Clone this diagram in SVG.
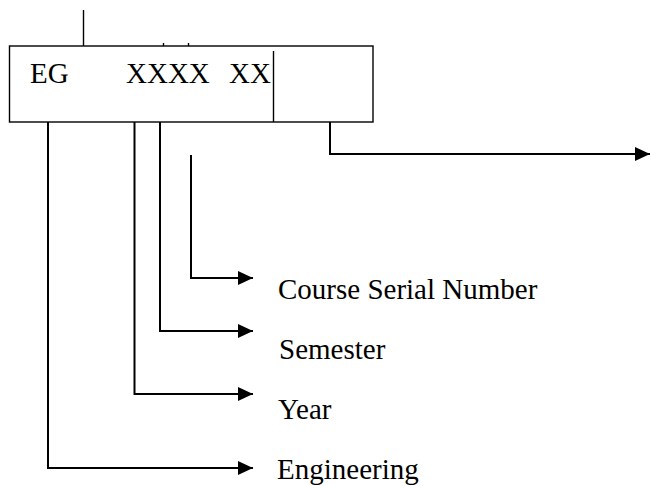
<svg xmlns="http://www.w3.org/2000/svg" width="651" height="486" viewBox="0 0 651 486">
<style>
text{font-family:"Liberation Serif","Times New Roman",serif;font-size:29px;fill:#000}
.box{fill:none;stroke:#000;stroke-width:1.4}
.ln{fill:none;stroke:#000;stroke-width:2}
.con{fill:none;stroke:#000;stroke-width:2;marker-end:url(#ah)}
</style>
<defs>
<marker id="ah" markerUnits="userSpaceOnUse" markerWidth="16" markerHeight="16" refX="15" refY="7" orient="auto">
<path d="M0,0 L15,7 L0,14 z" fill="#000"/>
</marker>
</defs>
<rect width="651" height="486" fill="#fff"/>
<g id="code-box">
<rect class="box" x="9.5" y="46" width="363.5" height="76"/>
<line class="box" x1="273.5" y1="51" x2="273.5" y2="122"/>
<line class="box" x1="83.5" y1="10" x2="83.5" y2="46"/>
<line class="box" x1="163.5" y1="43" x2="163.5" y2="46" stroke-width="1"/>
<line class="box" x1="188.5" y1="43" x2="188.5" y2="46" stroke-width="1"/>
<text x="30" y="83">EG</text>
<text x="126" y="83">XXXX</text>
<text x="229" y="83">XX</text>
</g>
<g id="connectors">
<path class="con" d="M330,122 V154 H650"/>
<path class="con" d="M191,155 V278 H253"/>
<path class="con" d="M160,122 V331 H253"/>
<path class="con" d="M134.5,122 V394 H253"/>
<path class="con" d="M48,122 V468 H253"/>
</g>
<g id="label-course"><text x="278" y="299">Course Serial Number</text></g>
<g id="label-semester"><text x="279" y="359">Semester</text></g>
<g id="label-year"><text x="278" y="419">Year</text></g>
<g id="label-engineering"><text x="277" y="479">Engineering</text></g>
</svg>
